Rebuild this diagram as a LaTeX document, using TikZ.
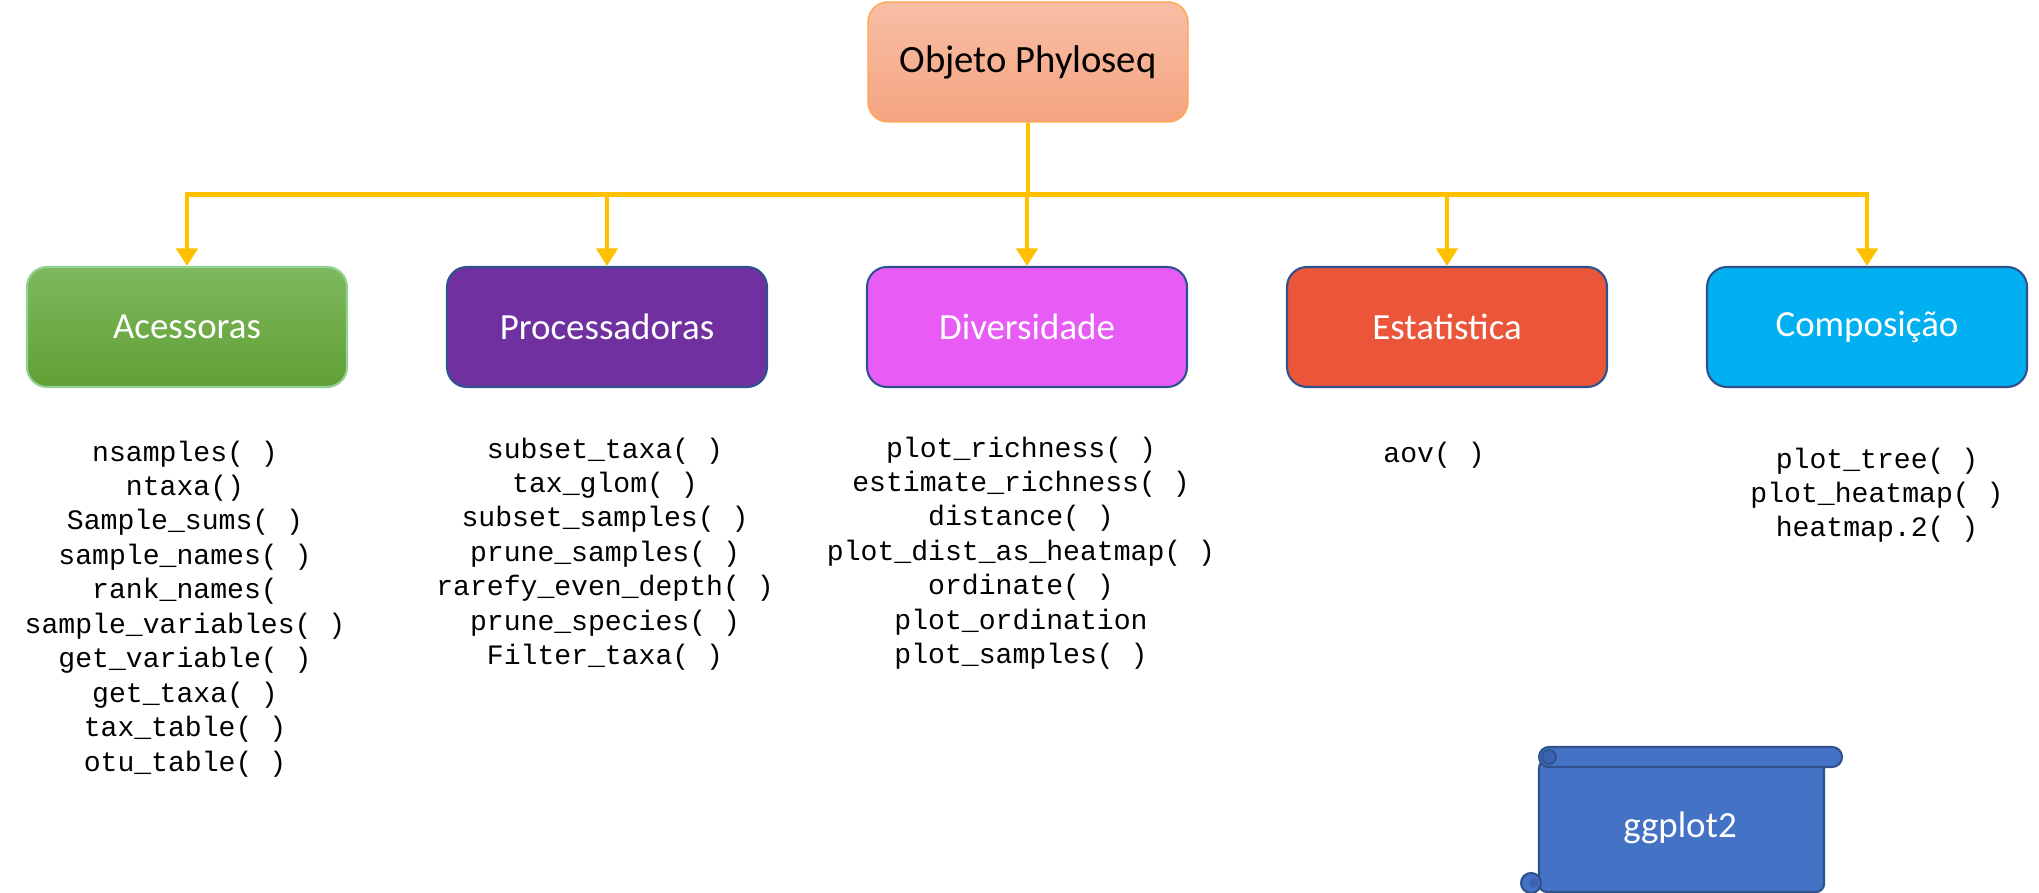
\documentclass[tikz,border=0pt]{standalone}
\usepackage{fontspec}
\setmainfont{Carlito}
\newfontfamily\codefont{Liberation Mono}
\usetikzlibrary{arrows.meta}
\definecolor{linkyellow}{HTML}{FFC000}
\definecolor{boxedge}{HTML}{2F528F}
\definecolor{scrollblue}{HTML}{4472C4}
\definecolor{scrolldark}{HTML}{3A64B0}
\tikzset{
  catbox/.style={rectangle, rounded corners=0.2cm, minimum width=3.2cm, minimum height=1.2cm,
    draw=boxedge, line width=0.6pt, text=white, font=\fontsize{10.5}{12}\selectfont},
  link/.style={linkyellow, line width=1.4pt, -{Triangle[width=6pt,length=5pt]}},
  funcs/.style={anchor=north, inner sep=0pt, align=center, font=\codefont\fontsize{8}{9.8}\selectfont},
  scroll/.style={fill=scrollblue, draw=boxedge, line width=0.6pt}
}
\begin{document}
\begin{tikzpicture}
  \useasboundingbox (0,0) rectangle (20.39,-8.93);
  \clip (0,0) rectangle (20.39,-8.93);
  % objeto principal
  \node[rectangle, rounded corners=0.2cm, minimum width=3.2cm, minimum height=1.2cm,
    draw=orange!70, top color={rgb,255:red,248;green,190;blue,166}, bottom color={rgb,255:red,245;green,164;blue,128},
    font=\fontsize{11}{13}\selectfont] (obj) at (10.28,-0.62) {Objeto Phyloseq};
  % categorias
  \node[catbox, draw=green!40!gray!60, top color={rgb,255:red,127;green,184;blue,94}, bottom color={rgb,255:red,96;green,160;blue,52}] (aces) at (1.87,-3.27) {Acessoras};
  \node[catbox, fill={rgb,255:red,112;green,48;blue,160}] (proc) at (6.07,-3.27) {Processadoras};
  \node[catbox, fill={rgb,255:red,232;green,92;blue,245}] (div) at (10.27,-3.27) {Diversidade};
  \node[catbox, fill={rgb,255:red,235;green,85;blue,58}] (est) at (14.47,-3.27) {Estatistica};
  \node[catbox, fill={rgb,255:red,0;green,176;blue,240}] (comp) at (18.67,-3.27) {Composição};
  % ligacoes
  \foreach \b in {aces,proc,div,est,comp}
    \draw[link] (obj.south) -- ++(0,-0.72) -| (\b.north);
  % funcoes
  \node[funcs] (acesfn) at (1.85,-4.40) {nsamples( )\\ntaxa()\\Sample\_sums( )\\sample\_names( )\\rank\_names(\\sample\_variables( )\\get\_variable( )\\get\_taxa( )\\tax\_table( )\\otu\_table( )};
  \node[funcs] (procfn) at (6.05,-4.37) {subset\_taxa( )\\tax\_glom( )\\subset\_samples( )\\prune\_samples( )\\rarefy\_even\_depth( )\\prune\_species( )\\Filter\_taxa( )};
  \node[funcs] (divfn) at (10.21,-4.36) {plot\_richness( )\\estimate\_richness( )\\distance( )\\plot\_dist\_as\_heatmap( )\\ordinate( )\\plot\_ordination\\plot\_samples( )};
  \node[funcs] (estfn) at (14.34,-4.41) {aov( )};
  \node[funcs] (compfn) at (18.77,-4.47) {plot\_tree( )\\plot\_heatmap( )\\heatmap.2( )};
  % ggplot2
  \draw[scroll, rounded corners=0.08cm] (15.39,-7.6) rectangle (18.24,-8.92);
  \draw[scroll] (15.31,-8.83) circle (0.1);
  \fill[scrolldark] (15.34,-8.83) circle (0.05);
  \draw[scroll, rounded corners=0.1cm] (15.39,-7.47) rectangle (18.42,-7.67);
  \draw[boxedge, fill=scrolldark, line width=0.5pt] (15.49,-7.57) circle (0.07);
  \node[text=white, font=\fontsize{10.5}{12}\selectfont] (gg) at (16.80,-8.28) {ggplot2};
\end{tikzpicture}
\end{document}
